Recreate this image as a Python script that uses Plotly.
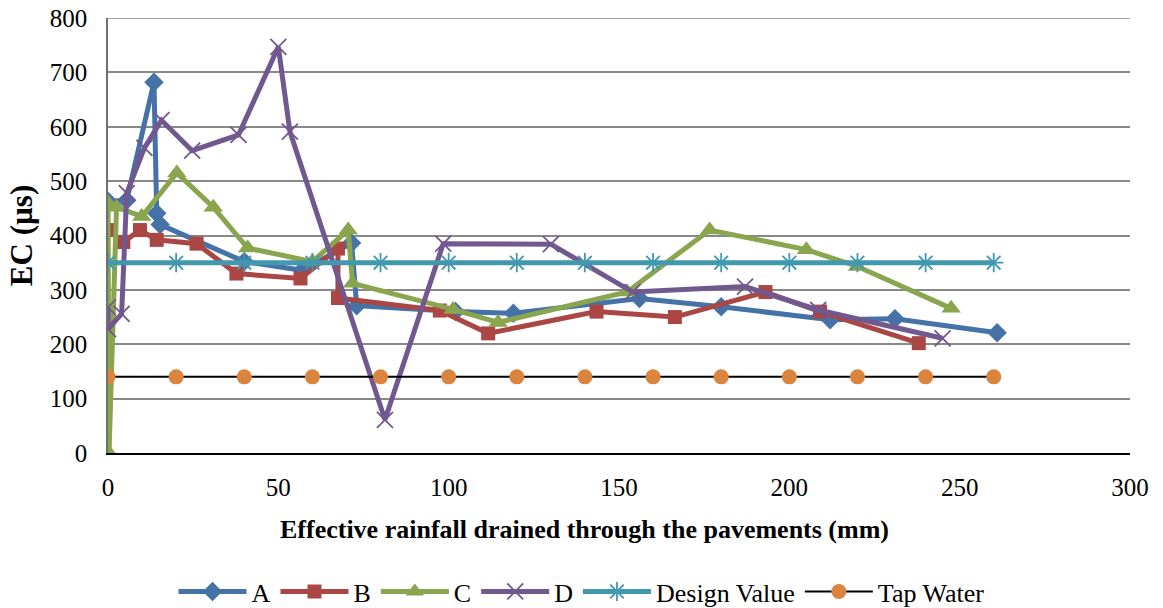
import plotly.graph_objects as go

# ---- data ----
a_x = [0, 5.5, 13.5, 14.3, 15.3, 40, 57, 71.5, 73, 102, 119, 156, 180, 212, 231, 261]
a_y = [463, 465, 682, 441, 420, 352, 336, 386, 271, 260, 257, 284, 269, 245, 247, 221]

b_x = [0, 4.5, 9.4, 14.3, 26, 37.7, 56.5, 67.5, 67.5, 97.4, 111.6, 143.4, 166.4, 193, 209, 238]
b_y = [410, 388, 410, 392, 385, 330, 321, 376, 285, 262, 220, 260, 250, 296, 260, 202]

c_x = [0, 0.3, 2.5, 9.9, 20.2, 30.9, 41, 60, 70.5, 71.8, 101.3, 114.5, 152.4, 176.6, 205, 220, 247.5]
c_y = [460, 0, 452, 435, 515, 452, 377, 352, 410, 312, 264, 240, 296, 410, 374, 343, 266]

d_x = [0, 0, 4, 5.5, 10.7, 15.7, 24.7, 38.3, 50, 53.4, 81.3, 98.4, 130, 154, 187, 208.5, 245]
d_y = [268, 228, 256, 478, 561, 612, 556, 585, 747, 591, 61, 385, 384, 296, 306, 263, 211]

design_x = [0, 20, 40, 60, 80, 100, 120, 140, 160, 180, 200, 220, 240, 260]
design_y = [350] * len(design_x)

tap_x = [0, 20, 40, 60, 80, 100, 120, 140, 160, 180, 200, 220, 240, 260]
tap_y = [140] * len(tap_x)

x_ticks = [0, 50, 100, 150, 200, 250, 300]
y_ticks = [0, 100, 200, 300, 400, 500, 600, 700, 800]

x_title = "Effective rainfall drained through the pavements (mm)"
y_title = "EC (µs)"

FONT = "Times New Roman, Liberation Serif, serif"

fig = go.Figure()

fig.add_trace(go.Scatter(
    x=a_x, y=a_y, name="A", mode="lines+markers",
    line=dict(color="#4572A7", width=5),
    marker=dict(symbol="diamond", size=15, color="#4572A7")))
fig.add_trace(go.Scatter(
    x=b_x, y=b_y, name="B", mode="lines+markers",
    line=dict(color="#AA4643", width=5),
    marker=dict(symbol="square", size=14, color="#AA4643")))
fig.add_trace(go.Scatter(
    x=c_x, y=c_y, name="C", mode="lines+markers",
    line=dict(color="#89A54E", width=5),
    marker=dict(symbol="triangle-up", size=17, color="#89A54E")))
fig.add_trace(go.Scatter(
    x=d_x, y=d_y, name="D", mode="lines+markers",
    line=dict(color="#71588F", width=5),
    marker=dict(symbol="x-thin-open", size=16,
                line=dict(color="#71588F", width=1.8))))
fig.add_trace(go.Scatter(
    x=design_x, y=design_y, name="Design Value", mode="lines+markers",
    line=dict(color="#4198AF", width=5),
    marker=dict(symbol="asterisk-open", size=16,
                line=dict(color="#4198AF", width=1.8))))
fig.add_trace(go.Scatter(
    x=tap_x, y=tap_y, name="Tap Water", mode="lines+markers",
    line=dict(color="black", width=2),
    marker=dict(symbol="circle", size=15, color="#DB843D")))

fig.update_layout(
    width=1163, height=608,
    margin=dict(l=108, r=33, t=18, b=155, autoexpand=False),
    paper_bgcolor="white", plot_bgcolor="white",
    font=dict(family=FONT, size=25, color="black"),
    showlegend=True,
    legend=dict(orientation="h", xref="container", yref="container",
                x=0.5, xanchor="center", y=0.027, yanchor="middle",
                font=dict(family=FONT, size=26), itemwidth=68,
                traceorder="normal", bgcolor="rgba(0,0,0,0)"),
    xaxis=dict(range=[0, 300], tickvals=x_ticks, showgrid=False,
               showline=True, linecolor="black", linewidth=2,
               zeroline=False, ticks="", ticklabelstandoff=11,
               ticklabeloverflow="allow",
               tickfont=dict(family=FONT, size=25)),
    yaxis=dict(range=[0, 800], tickvals=y_ticks, showgrid=True,
               gridcolor="#888888", gridwidth=1.5,
               showline=True, linecolor="#707070", linewidth=1.5,
               zeroline=False, ticks="", ticklabelstandoff=14,
               ticklabeloverflow="allow",
               tickfont=dict(family=FONT, size=25),
               title=dict(text="<b>" + y_title + "</b>",
                          font=dict(family=FONT, size=31), standoff=8)),
    annotations=[dict(text="<b>" + x_title + "</b>", xref="paper", yref="paper",
                      x=0.4667, y=-0.177, xanchor="center", yanchor="middle",
                      showarrow=False, font=dict(family=FONT, size=26))],
    shapes=[dict(type="line", xref="paper", yref="y", x0=0, x1=1, y0=800, y1=800,
                 line=dict(color="#888888", width=1.5), layer="below")],
)

# remove the browser's default 8px body margin so the figure fills the window
fig.write_html("out.html",
               config={"displayModeBar": False},
               post_script="document.body.style.margin='0px';document.body.style.overflow='hidden';")
